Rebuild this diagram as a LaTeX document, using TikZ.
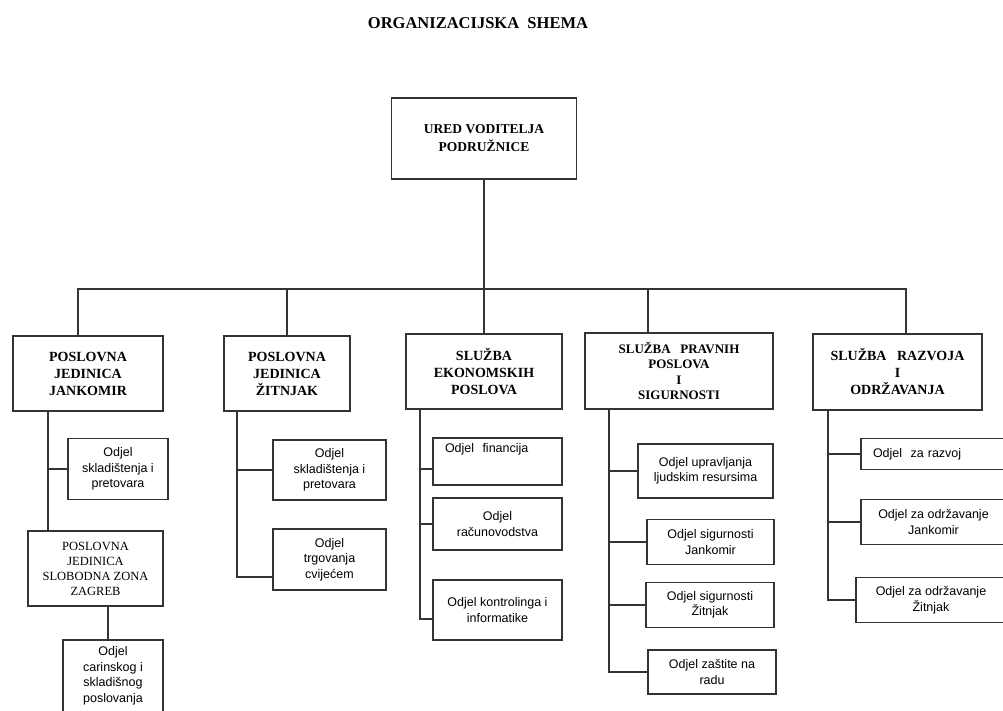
\documentclass[tikz,border=0pt]{standalone}
\usepackage{fontspec}
\setmainfont{Liberation Serif}
\setsansfont{Liberation Sans}

\begin{document}
\begin{tikzpicture}[x=1pt,y=-1pt,
		box/.style={draw=black!80,line width=1.7pt,inner sep=0pt,align=center},
		head/.style={box,font=\fontsize{14}{17}\selectfont\bfseries},
		dept/.style={box,font=\sffamily\fontsize{12.5}{15.5}\selectfont},
		link/.style={draw=black!80,line width=1.5pt}]
		\useasboundingbox (0,0) rectangle (1003,711);
		\node[font=\fontsize{16.5}{18}\selectfont\bfseries] (title) at (478,23) {ORGANIZACIJSKA~ SHEMA};
		% uprava
		\node[head,minimum width=185pt,minimum height=81pt,font=\fontsize{13.5}{18}\selectfont\bfseries] (ured) at (484,138.5) {URED VODITELJA\\PODRUŽNICE};
		% jedinice i sluzbe
		\node[head,minimum width=150pt,minimum height=75pt] (pjj) at (88,373.5) {POSLOVNA\\JEDINICA\\JANKOMIR};
		\node[head,minimum width=126pt,minimum height=75pt] (pjz) at (287,373.5) {POSLOVNA\\JEDINICA\\ŽITNJAK};
		\node[head,minimum width=156pt,minimum height=75pt] (sep) at (484,371.5) {SLUŽBA\\EKONOMSKIH\\POSLOVA};
		\node[head,minimum width=188pt,minimum height=76pt,font=\fontsize{13}{15.5}\selectfont\bfseries] (spp) at (679,371) {SLUŽBA~~ PRAVNIH\\POSLOVA\\I\\SIGURNOSTI};
		\node[head,minimum width=169pt,minimum height=76pt] (sro) at (897.5,372) {SLUŽBA~~ RAZVOJA\\I\\ODRŽAVANJA};
		% Jankomir
		\node[dept,minimum width=100pt,minimum height=61pt] (skl1) at (118,469) {Odjel\\skladištenja i\\pretovara};
		\node[box,minimum width=135pt,minimum height=75pt,font=\fontsize{12.5}{15}\selectfont] (slz) at (95.5,568.5) {POSLOVNA\\JEDINICA\\SLOBODNA ZONA\\ZAGREB};
		\node[dept,minimum width=100pt,minimum height=72pt] (car) at (113,676) {Odjel\\carinskog i\\skladišnog\\poslovanja};
		% Zitnjak
		\node[dept,minimum width=113pt,minimum height=60pt] (skl2) at (329.5,470) {Odjel\\skladištenja i\\pretovara};
		\node[dept,minimum width=113pt,minimum height=61pt] (trg) at (329.5,559.5) {Odjel\\trgovanja\\cvijećem};
		% ekonomski poslovi
		\node[dept,text width=105pt,inner xsep=12pt,align=left,text height=14pt,text depth=33pt] (fin) at (497.5,461.5) {Odjel~ financija};
		\node[dept,minimum width=129pt,minimum height=52pt] (rac) at (497.5,524) {Odjel\\računovodstva};
		\node[dept,minimum width=129pt,minimum height=60pt] (kon) at (497.5,610) {Odjel kontrolinga i\\informatike};
		% pravni poslovi
		\node[dept,minimum width=135pt,minimum height=54pt] (upr) at (705.5,471) {Odjel upravljanja\\ljudskim resursima};
		\node[dept,minimum width=127pt,minimum height=45pt] (sj) at (710.5,542) {Odjel sigurnosti\\Jankomir};
		\node[dept,minimum width=128pt,minimum height=45pt] (sz) at (710,605) {Odjel sigurnosti\\Žitnjak};
		\node[dept,minimum width=128pt,minimum height=44pt] (zas) at (712,672) {Odjel zaštite na\\radu};
		% razvoj i odrzavanje
		\node[dept,text width=121pt,inner xsep=12pt,align=left,minimum height=31pt] (raz) at (933.5,454) {Odjel~ za razvoj};
		\node[dept,minimum width=145pt,minimum height=45pt] (roj) at (933.5,522) {Odjel za održavanje\\Jankomir};
		\node[dept,minimum width=150pt,minimum height=45pt] (roz) at (931,600) {Odjel za održavanje\\Žitnjak};

		% veze
		\coordinate (barL) at (78,289);
		\coordinate (barR) at (906,289);
		\coordinate (cP) at (648,289);
		\draw[link] (ured.south) -- (sep.north);
		\draw[link] (barL |- pjj.north) -- (barL) -- (barR) -- (barR |- sro.north);
		\draw[link] (pjz.north) -- (pjz.north |- barL);
		\draw[link] (cP) -- (cP |- spp.north);

		\coordinate (tJ) at (48,411);
		\draw[link] (tJ |- pjj.south) -- (tJ |- slz.north);
		\draw[link] (tJ |- skl1.west) -- (skl1.west);
		\coordinate (tS) at (108,606);
		\draw[link] (tS |- slz.south) -- (tS |- car.north);

		\coordinate (tZ) at (237,411);
		\draw[link] (tZ |- pjz.south) |- ([yshift=-17.5pt]trg.west);
		\draw[link] (tZ |- skl2.west) -- (skl2.west);

		\coordinate (tE) at (420,409);
		\draw[link] (tE |- sep.south) |- ([yshift=-9pt]kon.west);
		\draw[link] ([yshift=-7.5pt]fin.west) -- +(-13,0);
		\draw[link] (tE |- rac.west) -- (rac.west);

		\coordinate (tP) at (609,409);
		\draw[link] (tP |- spp.south) |- (zas.west);
		\foreach \n in {upr,sj,sz}
			\draw[link] (tP |- \n.west) -- (\n.west);

		\coordinate (tR) at (828,410);
		\draw[link] (tR |- sro.south) |- (roz.west);
		\foreach \n in {raz,roj}
			\draw[link] (tR |- \n.west) -- (\n.west);
	\end{tikzpicture}
\end{document}
